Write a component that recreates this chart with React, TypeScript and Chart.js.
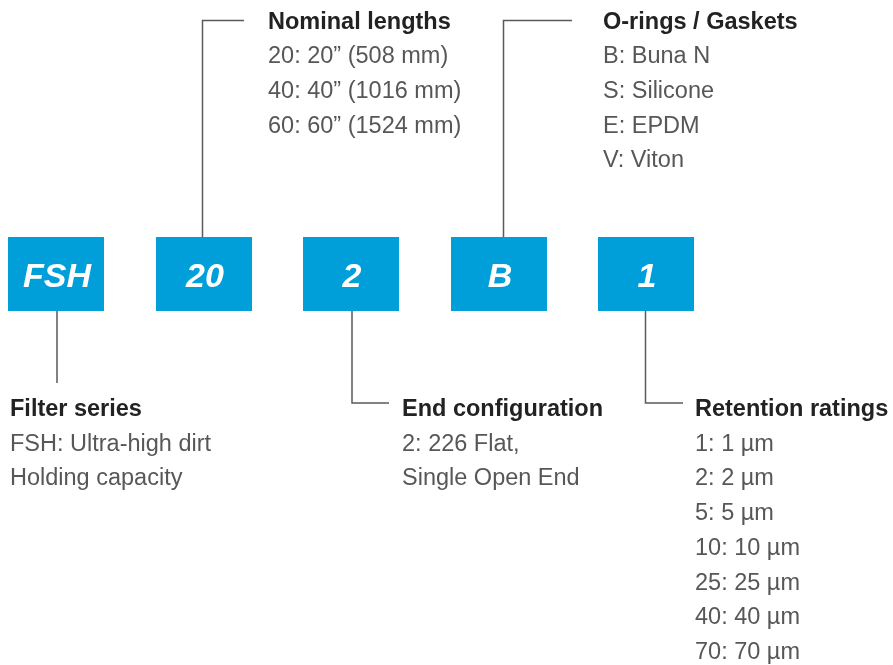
import React, { useEffect, useRef } from "react";
import { Chart, registerables } from "chart.js";

Chart.register(...registerables);

// ---- content ----
const codes = ["FSH", "20", "2", "B", "1"];
const groupTitles = ["Filter series", "Nominal lengths", "End configuration", "O-rings / Gaskets", "Retention ratings"];
const filterSeries = ["FSH: Ultra-high dirt", "Holding capacity"];
const nominalLengths = ["20: 20\u201D (508 mm)", "40: 40\u201D (1016 mm)", "60: 60\u201D (1524 mm)"];
const endConfigurations = ["2: 226 Flat,", "Single Open End"];
const oRings = ["B: Buna N", "S: Silicone", "E: EPDM", "V: Viton"];
const retentionRatings = ["1: 1 \u00B5m", "2: 2 \u00B5m", "5: 5 \u00B5m", "10: 10 \u00B5m", "25: 25 \u00B5m", "40: 40 \u00B5m", "70: 70 \u00B5m"];
const groupItems = [filterSeries, nominalLengths, endConfigurations, oRings, retentionRatings];

// ---- layout (in scale units = px of the 893x665 canvas) ----
const W = 893;
const H = 665;
const boxCenters = [56, 204, 351, 499, 646];
const boxWidth = 96;
const boxTop = 237;
const boxBottom = 311;
const connectors: { x: number; y: number }[][] = [
  [{ x: 57, y: 311 }, { x: 57, y: 383 }],
  [{ x: 202.5, y: 237 }, { x: 202.5, y: 20.5 }, { x: 244, y: 20.5 }],
  [{ x: 352, y: 311 }, { x: 352, y: 403 }, { x: 389, y: 403 }],
  [{ x: 503.5, y: 237 }, { x: 503.5, y: 20.5 }, { x: 572, y: 20.5 }],
  [{ x: 645.5, y: 311 }, { x: 645.5, y: 403 }, { x: 683, y: 403 }],
];
const textAnchors = [
  { x: 10, y: 416 },
  { x: 268, y: 28.5 },
  { x: 402, y: 416 },
  { x: 603, y: 28.5 },
  { x: 695, y: 416 },
];
const lineStep = 34.7;

const BOX_COLOR = "#009FDA";
const LINE_COLOR = "#5a5a5a";
const TITLE_COLOR = "#222222";
const BODY_COLOR = "#575757";
const FONT = "'Liberation Sans', Arial, Helvetica, sans-serif";

const diagramPlugin = {
  id: "diagram",
  afterDatasetsDraw(chart: any) {
    const { ctx, scales } = chart;
    const sx = scales.x;
    const sy = scales.y;
    ctx.save();
    // boxes
    codes.forEach((code, i) => {
      const x0 = sx.getPixelForValue(boxCenters[i] - boxWidth / 2);
      const x1 = sx.getPixelForValue(boxCenters[i] + boxWidth / 2);
      const y0 = sy.getPixelForValue(boxTop);
      const y1 = sy.getPixelForValue(boxBottom);
      ctx.fillStyle = BOX_COLOR;
      ctx.fillRect(x0, y0, x1 - x0, y1 - y0);
      ctx.fillStyle = "#ffffff";
      ctx.font = `italic bold 34px ${FONT}`;
      ctx.textAlign = "center";
      ctx.textBaseline = "alphabetic";
      ctx.fillText(code, (x0 + x1) / 2 + 1, (y0 + y1) / 2 + 12.5);
    });
    // texts
    ctx.textAlign = "left";
    ctx.textBaseline = "alphabetic";
    groupTitles.forEach((title, i) => {
      const a = textAnchors[i];
      const px = sx.getPixelForValue(a.x);
      ctx.fillStyle = TITLE_COLOR;
      ctx.font = `bold 23.5px ${FONT}`;
      ctx.fillText(title, px, sy.getPixelForValue(a.y));
      ctx.fillStyle = BODY_COLOR;
      ctx.font = `23.5px ${FONT}`;
      groupItems[i].forEach((t, j) => {
        ctx.fillText(t, px, sy.getPixelForValue(a.y + lineStep * (j + 1)));
      });
    });
    ctx.restore();
  },
};

export default function App() {
  const ref = useRef<HTMLCanvasElement | null>(null);
  useEffect(() => {
    if (!ref.current) return;
    const chart = new Chart(ref.current, {
      type: "scatter",
      data: {
        datasets: connectors.map((pts) => ({
          data: pts,
          showLine: true,
          borderColor: LINE_COLOR,
          borderWidth: 1.5,
          pointRadius: 0,
          fill: false,
          tension: 0,
        })),
      },
      options: {
        animation: false,
        responsive: false,
        events: [],
        layout: { padding: 0 },
        plugins: { legend: { display: false }, tooltip: { enabled: false } },
        scales: {
          x: { type: "linear", min: 0, max: W, display: false, offset: false },
          y: { type: "linear", min: 0, max: H, reverse: true, display: false, offset: false },
        },
      },
      plugins: [diagramPlugin],
    });
    return () => chart.destroy();
  }, []);
  return (
    <div style={{ position: "fixed", left: 0, top: 0, width: W, height: H, background: "#ffffff" }}>
      <canvas ref={ref} width={W} height={H} style={{ display: "block" }} />
    </div>
  );
}
